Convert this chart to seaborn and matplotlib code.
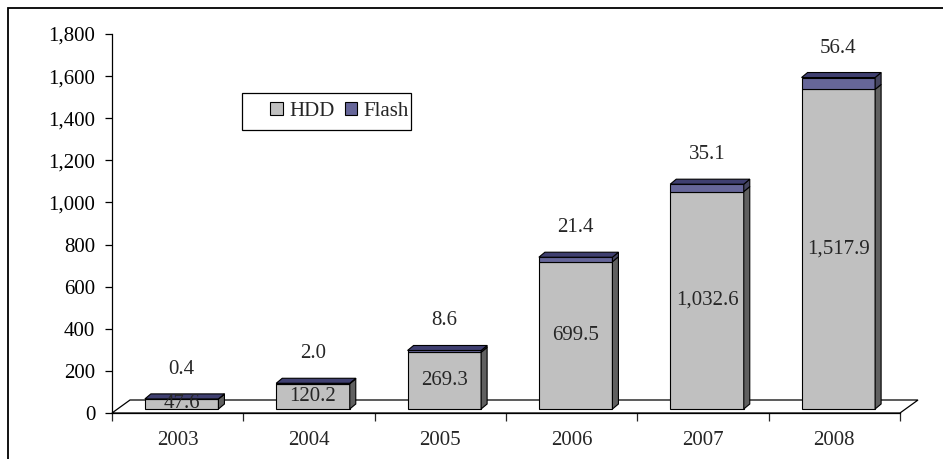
import matplotlib
matplotlib.use("Agg")
import matplotlib.pyplot as plt
import matplotlib.transforms as mtrans
from matplotlib.patches import Polygon, Rectangle, Patch
from matplotlib.ticker import FuncFormatter
import seaborn as sns
import pandas as pd

years = ["2003", "2004", "2005", "2006", "2007", "2008"]
hdd = [47.6, 120.2, 269.3, 699.5, 1032.6, 1517.9]
flash = [0.4, 2.0, 8.6, 21.4, 35.1, 56.4]
series_names = ["HDD", "Flash"]

HDD_FRONT = "#C0C0C0"
HDD_SIDE = "#606060"
FLASH_FRONT = "#666699"
FLASH_SIDE = "#45455F"
FLASH_TOP = "#3F3F70"

sns.set_style("white")
plt.rcParams["font.family"] = ["Liberation Serif", "DejaVu Serif"]
plt.rcParams["font.size"] = 15

W, H, DPI = 943, 459, 100
fig = plt.figure(figsize=(W / DPI, H / DPI), dpi=DPI)

# axes placed in pixel terms: x from 112 to 900, y=0 at 413 and y=1800 at 34
ax_left, ax_right, ax_y0, ax_y1 = 112, 900, 413, 34
ax = fig.add_axes([ax_left / W, (H - ax_y0) / H,
                   (ax_right - ax_left) / W, (ax_y0 - ax_y1) / H])

df = pd.DataFrame({"year": years, "HDD": hdd, "Flash": flash})

BAR_W = 0.56
shift = mtrans.offset_copy(ax.transData, fig=fig, x=4, y=4, units="dots")

sns.barplot(data=df, x="year", y="HDD", color=HDD_FRONT, width=BAR_W,
            edgecolor="black", linewidth=0.8, saturation=1, ax=ax, zorder=3)
ax.bar(range(len(years)), flash, bottom=hdd, width=BAR_W, color=FLASH_FRONT,
       edgecolor="black", linewidth=0.8, zorder=3)
for p in ax.patches:
    p.set_transform(shift)
    p.set_clip_on(False)

ax.set_xlim(-0.5, len(years) - 0.5)
ax.set_ylim(0, 1800)
ax.set_xlabel("")
ax.set_ylabel("")

for s in ["top", "right"]:
    ax.spines[s].set_visible(False)
for s in ["left", "bottom"]:
    ax.spines[s].set_color("black")
    ax.spines[s].set_linewidth(0.9)
    ax.spines[s].set_zorder(2)

ax.set_yticks(range(0, 1801, 200))
ax.yaxis.set_major_formatter(FuncFormatter(lambda v, _: f"{int(v):,}"))
ax.tick_params(axis="y", direction="out", length=5, width=0.9, pad=7,
               left=True, colors="black")

ax.set_xticks([i - 0.5 for i in range(len(years) + 1)])
ax.set_xticklabels([])
ax.set_xticks(range(len(years)), minor=True)
ax.set_xticklabels(years, minor=True)
ax.tick_params(axis="x", which="major", direction="out", length=6, width=0.9,
               bottom=True)
ax.tick_params(axis="x", which="minor", length=0, pad=13)

ident = mtrans.IdentityTransform()
to_px = ax.transData.transform


def add_px_poly(pts, fc, z, lw=0.8):
    poly = Polygon(pts, closed=True, facecolor=fc, edgecolor="black", lw=lw,
                   transform=ident, zorder=z)
    poly.set_clip_on(False)
    ax.add_artist(poly)


# floor of the 3D plot area
FDX, FDY = 18, 13
x0, yb = to_px((-0.5, 0))
x1, _ = to_px((len(years) - 0.5, 0))
add_px_poly([(x0, yb), (x0 + FDX, yb + FDY), (x1 + FDX, yb + FDY), (x1, yb)],
            "white", 1, lw=0.9)

# depth faces of each column
DX, DY = 6, 5
for i, (h, f) in enumerate(zip(hdd, flash)):
    xl, ybase = to_px((i - BAR_W / 2, 0))
    xr, _ = to_px((i + BAR_W / 2, 0))
    _, yh = to_px((i, h))
    _, yt = to_px((i, h + f))
    xl += 4; xr += 4; ybase += 4; yh += 4; yt += 4
    for (ya, yb2, col) in [(ybase, yh, HDD_SIDE), (yh, yt, FLASH_SIDE)]:
        add_px_poly([(xr, ya), (xr + DX, ya + DY), (xr + DX, yb2 + DY), (xr, yb2)],
                    col, 4)
    add_px_poly([(xl, yt), (xl + DX, yt + DY), (xr + DX, yt + DY), (xr, yt)],
                FLASH_TOP, 4)

    # value labels
    ax.annotate(f"{h:,.1f}", (i, h / 2), xytext=(4, 4), textcoords="offset pixels",
                ha="center", va="center", fontsize=15, zorder=6)
    ax.annotate(f"{f:,.1f}", (i, h + f), xytext=(4, 24), textcoords="offset pixels",
                ha="center", va="bottom", fontsize=15, zorder=6)

# legend box
fig.add_artist(Rectangle((242, H - 130), 169, 37, facecolor="white",
                         edgecolor="black", lw=0.9, transform=ident, zorder=5))
handles = [Patch(facecolor=HDD_FRONT, edgecolor="black", lw=0.8),
           Patch(facecolor=FLASH_FRONT, edgecolor="black", lw=0.8)]
leg = fig.legend(handles, series_names, ncol=2, frameon=False,
                 loc="center right", bbox_to_anchor=(409 / W, (H - 111.5) / H),
                 handlelength=0.6, handleheight=0.6, handletextpad=0.3,
                 columnspacing=0.5, borderpad=0, borderaxespad=0, fontsize=15)
leg.set_zorder(6)

# outer frame of the chart area
fig.add_artist(Rectangle((7.5, -20), W + 20, H - 7.5 + 20, fill=False,
                         edgecolor="black", lw=1.3, transform=ident, zorder=0))

fig.savefig("out.png", dpi=DPI)
